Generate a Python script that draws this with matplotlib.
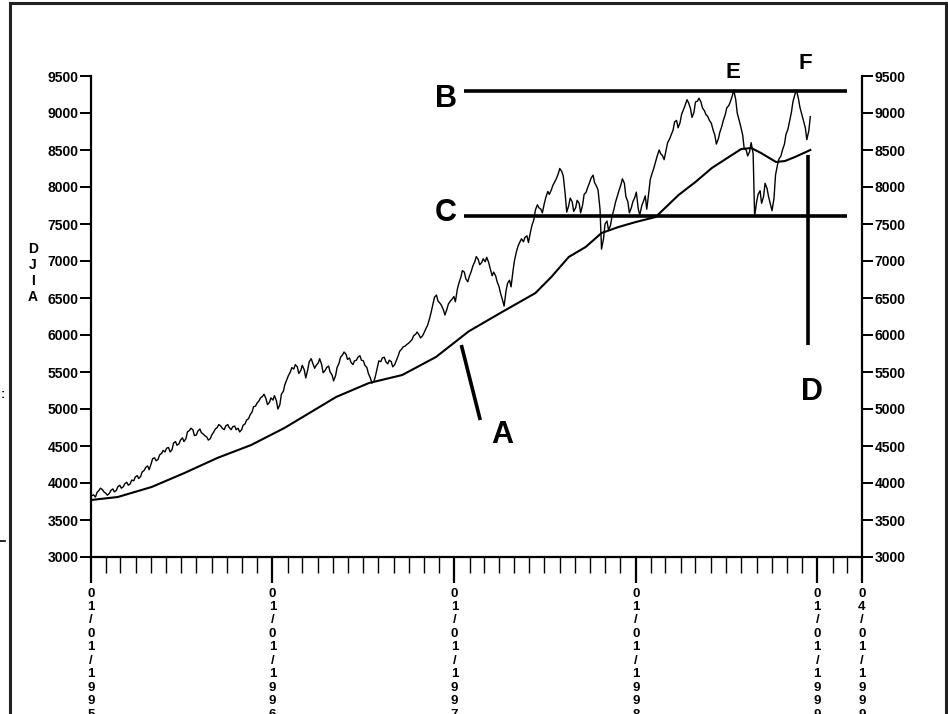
"""DJIA 1995-1998 with its 200-day moving average and the A-F annotations."""

import matplotlib

matplotlib.use("Agg")
import matplotlib.dates as mdates
import matplotlib.pyplot as plt
import pandas as pd
from matplotlib.patches import Rectangle
from matplotlib.ticker import FixedLocator

# --- data --------------------------------------------------------------------
# Friday closes, first Friday of 1995 onward
FRI_1995 = [3840, 3870, 3930, 3880, 3835, 3900, 3880, 3950, 3930, 3990,
            3970, 4040, 4080, 4060, 4150, 4210, 4180, 4330, 4300, 4380,
            4440, 4470, 4420, 4540, 4510, 4580, 4560, 4690, 4740, 4640,
            4700, 4680, 4640, 4580, 4650, 4730, 4790, 4740, 4770, 4750,
            4760, 4720, 4690, 4780, 4850, 4920, 5030, 5080, 5150, 5200,
            5060, 5150]
FRI_1996 = [5180, 5000, 5200, 5330, 5450, 5560, 5600, 5480, 5590, 5420,
            5640, 5620, 5590, 5680, 5490, 5560, 5500, 5380, 5560, 5700,
            5770, 5670, 5630, 5650, 5700, 5660, 5590, 5480, 5350, 5440,
            5650, 5690, 5640, 5660, 5570, 5650, 5780, 5840, 5870, 5910,
            5990, 6040, 5960, 6030, 6130, 6300, 6510, 6460, 6400, 6270,
            6420, 6480]
FRI_1997 = [6450, 6700, 6870, 6760, 6790, 6930, 7060, 6950, 7030, 7050,
            6900, 6850, 6720, 6560, 6390, 6700, 6650, 7010, 7200, 7300,
            7320, 7250, 7480, 7690, 7720, 7650, 7860, 7900, 8020, 8110,
            8250, 8150, 7660, 7850, 7670, 7820, 7650, 7900, 7990, 8120,
            8060, 7960, 7160, 7500, 7420, 7600, 7790, 7950, 8110, 7870,
            7650, 7800]
FRI_1998 = [7930, 7620, 7800, 7700, 8100, 8250, 8420, 8450, 8370, 8600,
            8700, 8880, 8800, 8980, 9100, 9140, 8940, 9150, 9200, 9070,
            8980, 8900, 8780, 8580, 8740, 8900, 9070, 9150, 9310, 9000,
            8820, 8520, 8420, 8600, 7600, 7900, 7780, 8050, 7870, 7680,
            8160, 8380, 8500, 8710, 8880, 9150, 9310, 9080, 8900, 8640,
            8950]
# Tuesday closes, the Tuesday before each Friday above
TUE_1995 = [3830, 3810, 3900, 3910, 3860, 3860, 3920, 3900, 3970, 3950,
            4010, 3990, 4030, 4100, 4090, 4170, 4230, 4260, 4340, 4320,
            4400, 4420, 4480, 4450, 4560, 4530, 4610, 4600, 4710, 4720,
            4650, 4730, 4660, 4620, 4600, 4690, 4750, 4770, 4720, 4790,
            4720, 4770, 4740, 4720, 4800, 4870, 4960, 5040, 5110, 5170,
            5140, 5090]
TUE_1996 = [5120, 5110, 5060, 5240, 5400, 5500, 5540, 5570, 5520, 5530,
            5530, 5680, 5550, 5620, 5600, 5520, 5580, 5460, 5450, 5620,
            5730, 5740, 5690, 5600, 5660, 5720, 5650, 5560, 5420, 5370,
            5560, 5640, 5700, 5610, 5640, 5600, 5720, 5810, 5850, 5890,
            5940, 6010, 6000, 5990, 6090, 6220, 6420, 6540, 6430, 6340,
            6350, 6460]
TUE_1997 = [6520, 6620, 6780, 6850, 6720, 6860, 6990, 7020, 6980, 6990,
            6980, 6800, 6800, 6650, 6470, 6600, 6740, 6870, 7130, 7260,
            7260, 7340, 7390, 7560, 7760, 7700, 7780, 7940, 7960, 8070,
            8180, 8210, 7900, 7750, 7800, 7720, 7780, 7760, 7930, 8060,
            8160, 8010, 7700, 7300, 7540, 7480, 7700, 7880, 8030, 8050,
            7800, 7720]
TUE_1998 = [7860, 7700, 7750, 7880, 7920, 8190, 8350, 8500, 8420, 8500,
            8650, 8770, 8900, 8870, 9050, 9180, 9060, 9010, 9160, 9150,
            9030, 8950, 8860, 8700, 8650, 8820, 8980, 9100, 9230, 9180,
            8900, 8700, 8500, 8480, 8450, 7800, 7950, 7870, 7980, 7760,
            7850, 8300, 8420, 8580, 8780, 9010, 9250, 9200, 8980, 8800,
            8760]
FRI = FRI_1995 + FRI_1996 + FRI_1997 + FRI_1998
TUE = TUE_1995 + TUE_1996 + TUE_1997 + TUE_1998
FIRST_FRIDAY = "1995-01-06"

MA_DATES = ["1995-01-01", "1995-02-24", "1995-05-03", "1995-07-08", "1995-09-12",
            "1995-11-19", "1996-01-25", "1996-05-08", "1996-07-13", "1996-09-18",
            "1996-11-25", "1997-01-30", "1997-04-07", "1997-06-13", "1997-07-15",
            "1997-08-19", "1997-09-22", "1997-10-24", "1997-11-27", "1998-01-01",
            "1998-02-10", "1998-03-28", "1998-05-01", "1998-06-03", "1998-07-07",
            "1998-08-01", "1998-08-21", "1998-09-10", "1998-10-10", "1998-10-28",
            "1998-11-17", "1998-12-18"]
MA_VALUES = [3770, 3811, 3946, 4135, 4338, 4513, 4743, 5162, 5351, 5459,
             5703, 6050, 6311, 6567, 6784, 7054, 7189, 7378, 7459, 7527,
             7595, 7892, 8068, 8257, 8405, 8513, 8527, 8459, 8338, 8351,
             8405, 8500]

RESISTANCE_B = 9300
SUPPORT_C = 7610
LEVEL_SPAN = ["1997-01-20", "1999-03-01"]
LINE_A = (["1997-01-15", "1997-02-22"], [5865, 4851])
LINE_D = (["1998-12-13", "1998-12-13"], [8432, 5865])

X_TICKS = ["1995-01-01", "1996-01-01", "1997-01-01", "1998-01-01",
           "1999-01-01", "1999-04-01"]
X_TICK_LABELS = ["01/01/1995", "01/01/1996", "01/01/1997", "01/01/1998",
                 "01/01/1999", "04/01/1999"]
Y_TICKS = list(range(3000, 9501, 500))


def main() -> None:
    plt.rcParams["font.family"] = ["Liberation Sans", "DejaVu Sans"]
    narrow = ["Liberation Sans Narrow", "Liberation Sans", "DejaVu Sans"]

    fig = plt.figure(figsize=(9.48, 7.14), dpi=100)
    W, H = 948, 714
    ax = fig.add_axes([91 / W, 1 - 557 / H, 771 / W, 481 / H])

    fridays = pd.date_range(FIRST_FRIDAY, periods=len(FRI), freq="W-FRI")
    tuesdays = fridays - pd.Timedelta(days=3)
    price = pd.concat([pd.Series(FRI, index=fridays),
                       pd.Series(TUE, index=tuesdays)]).sort_index()
    ax.plot(price.index, price.values, color="black", lw=1.0)
    ax.plot(pd.to_datetime(MA_DATES), MA_VALUES, color="black", lw=1.5)

    span = pd.to_datetime(LEVEL_SPAN)
    for lvl in (RESISTANCE_B, SUPPORT_C):
        ax.plot(span, [lvl, lvl], color="black", lw=2.6, solid_capstyle="butt")
    for xs, ys in (LINE_A, LINE_D):
        ax.plot(pd.to_datetime(xs), ys, color="black", lw=2.6, solid_capstyle="butt")

    ax.set_xlim(pd.Timestamp(X_TICKS[0]), pd.Timestamp(X_TICKS[-1]))
    ax.set_ylim(3000, 9500)

    # spines / ticks
    ax.spines["top"].set_visible(False)
    for s in ("left", "right", "bottom"):
        ax.spines[s].set_linewidth(1.6)

    ax.yaxis.set_major_locator(FixedLocator(Y_TICKS))
    ax.tick_params(axis="y", which="major", direction="out", length=8, width=1.4,
                   left=True, right=True, labelleft=True, labelright=True, pad=1)
    ax.set_yticklabels([str(v) for v in Y_TICKS])
    for t in ax.yaxis.get_major_ticks():
        t.label1.set_fontsize(10)
        t.label1.set_family(narrow)
        t.label1.set_fontweight("bold")
        t.label2.set_fontsize(10)
        t.label2.set_fontweight("bold")

    ax.xaxis.set_major_locator(FixedLocator(mdates.date2num(pd.to_datetime(X_TICKS))))
    ax.xaxis.set_minor_locator(mdates.MonthLocator())
    ax.set_xticklabels(["\n".join(s) for s in X_TICK_LABELS], family=narrow,
                       fontsize=9.5, fontweight="bold", linespacing=1.16)
    ax.tick_params(axis="x", which="major", direction="out", length=19, width=1.6, pad=3)
    ax.tick_params(axis="x", which="minor", direction="out", length=11.5, width=1.0)

    # annotation letters
    big = dict(transform=ax.transAxes, ha="center", va="center",
               fontsize=22, fontweight="bold")
    ax.text(0.534, 0.254, "A", **big)
    ax.text(0.460, 0.952, "B", **big)
    ax.text(0.460, 0.715, "C", **big)
    ax.text(0.935, 0.343, "D", **big)
    small = dict(big, fontsize=16)
    ax.text(0.833, 1.008, "E", clip_on=False, **small)
    ax.text(0.927, 1.027, "F", clip_on=False, **small)

    # stacked axis title
    fig.text(33 / W, 1 - 273 / H, "\n".join("DJIA"), ha="center", va="center",
             fontsize=10, fontweight="bold", linespacing=1.17)

    # outer frame plus the scraps of the neighbouring panel at the left edge
    fig.add_artist(Rectangle((10 / W, -0.1), 936 / W, 1.1 - 3 / H,
                             transform=fig.transFigure, fill=False,
                             edgecolor="#222222", lw=2.2))
    fig.text(1 / W, 1 - 395 / H, ":", ha="left", va="center", fontsize=9,
             fontweight="bold")
    fig.add_artist(plt.Line2D([0, 5 / W], [1 - 541 / H] * 2, color="black",
                              lw=1.2, transform=fig.transFigure))

    fig.savefig("out.png", dpi=100)


if __name__ == "__main__":
    main()
